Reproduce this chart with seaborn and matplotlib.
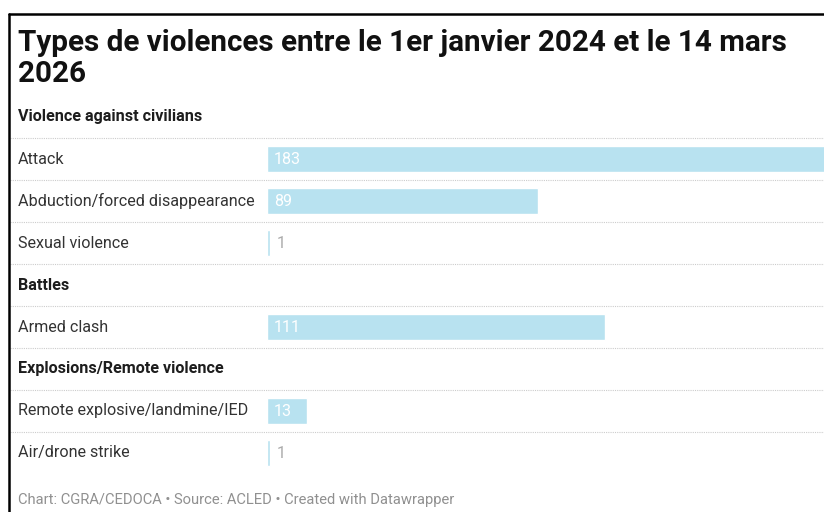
import numpy as np
import pandas as pd
import matplotlib
matplotlib.use('Agg')
import matplotlib.pyplot as plt
import matplotlib.transforms as mtransforms
from matplotlib.lines import Line2D
import seaborn as sns

sns.set_theme(style='white')
plt.rcParams['font.family'] = ['Roboto', 'DejaVu Sans']

title = "Types de violences entre le 1er janvier 2024 et le 14 mars\n2026"
footer = "Chart: CGRA/CEDOCA \u2022 Source: ACLED \u2022 Created with Datawrapper"

# rows as shown top to bottom; group headers have no value
rows = ["Violence against civilians", "Attack", "Abduction/forced disappearance",
        "Sexual violence", "Battles", "Armed clash", "Explosions/Remote violence",
        "Remote explosive/landmine/IED", "Air/drone strike"]
values = [np.nan, 183, 89, 1, np.nan, 111, np.nan, 13, 1]
is_header = [True, False, False, False, True, False, True, False, False]

df = pd.DataFrame({'row': rows, 'value': values})

W, H = 824, 512
fig = plt.figure(figsize=(W / 100, H / 100), dpi=100)

# plot area: bars from x=268 px, rows 42 px tall starting at y=96
left_px, right_px = 267, 825
top_px, bot_px = 96, 474
ax = fig.add_axes([left_px / W, 1 - bot_px / H, (right_px - left_px) / W, (bot_px - top_px) / H])

sns.barplot(data=df, x='value', y='row', order=rows, orient='h',
            color='#b8e2f0', saturation=1, width=0.64, ax=ax)
ax.set_xlim(0, 183)
ax.set_ylim(len(rows) - 0.5, -0.5)
ax.set_xlabel('')
ax.set_ylabel('')
ax.set_xticks([])
ax.set_yticks([])
for s in ax.spines.values():
    s.set_visible(False)
ax.patch.set_alpha(0)

blend = mtransforms.blended_transform_factory(fig.transFigure, ax.transData)

# row labels
for i, (lab, hdr) in enumerate(zip(rows, is_header)):
    ax.text(18 / W, i, lab, transform=blend, ha='left', va='center',
            fontsize=11.6, color='#1d1d1d' if hdr else '#333333',
            fontweight='bold' if hdr else 'normal')

# value labels
for i, v in enumerate(values):
    if np.isnan(v):
        continue
    if v >= 10:
        ax.annotate(f"{int(v)}", xy=(0, i), xytext=(7, 0), textcoords='offset pixels',
                    ha='left', va='center', fontsize=11.6, color='white')
    else:
        ax.annotate(f"{int(v)}", xy=(v, i), xytext=(7, 0), textcoords='offset pixels',
                    ha='left', va='center', fontsize=11.6, color='#aaaaaa')

# dotted separators between rows
for i in range(len(rows) - 1):
    fig.add_artist(Line2D([10 / W, 1], [i + 0.5, i + 0.5], transform=blend,
                          color='#cccccc', lw=0.8, linestyle=(0, (1, 1))))

# title and footer
fig.text(18 / W, 1 - 29 / H, title, ha='left', va='top', fontsize=21.3,
         fontweight='bold', color='#111111', linespacing=1.12)
fig.text(18 / W, 1 - 500 / H, footer, ha='left', va='center', fontsize=10.6,
         color='#909090')

# frame (top and left edge of screenshot)
fig.add_artist(Line2D([9 / W, 1], [1 - 14 / H, 1 - 14 / H], color='black', lw=1.8))
fig.add_artist(Line2D([9 / W, 9 / W], [1 - 14 / H, 0], color='black', lw=1.8))

fig.savefig('out.png', dpi=100)
